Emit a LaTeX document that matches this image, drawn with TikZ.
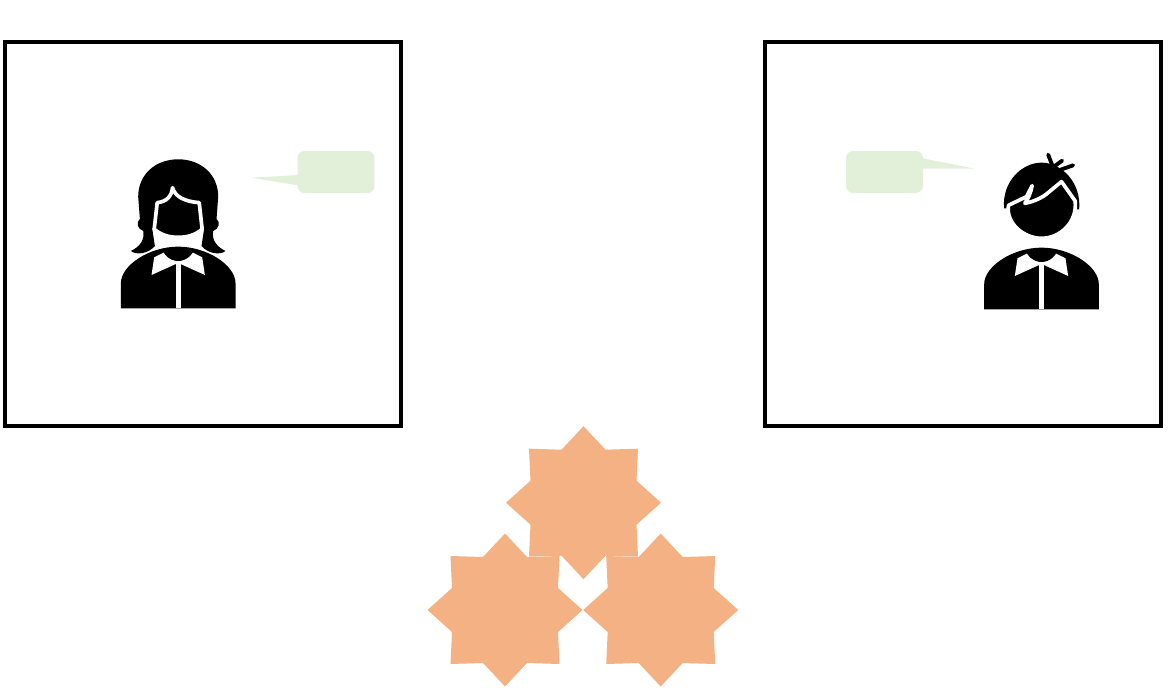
\documentclass[tikz,border=0pt]{standalone}
\usepackage{tikz}
\definecolor{bubblegreen}{HTML}{E2F0D9}
\definecolor{burstorange}{HTML}{F4B183}

\tikzset{
  personbody/.pic={
    \fill[black] (-172,0) -- (-172,-75) .. controls (-172,-130) and (-85,-185) .. (0,-185)
      .. controls (85,-185) and (172,-130) .. (172,-75) -- (172,0) -- cycle;
    \foreach \s in {-1,1} {
      \fill[white] (\s*44,-167) -- (\s*72,-153) -- (\s*80,-100) -- (\s*7,-133) -- (\s*7,-142) .. controls (\s*25,-145) and (\s*36,-155) .. (\s*44,-167) -- cycle;
    }
    \fill[white] (-7,-142) rectangle (7,0);
  },
  burstshape/.pic={
    \fill[burst] (0,-76.5) -- (22,-53) -- (54.5,-54) -- (53,-22) -- (77.5,0) -- (53,22) -- (54.5,54) -- (22,53)
      -- (0,76.5) -- (-22,53) -- (-54.5,54) -- (-53,22) -- (-77.5,0) -- (-53,-22) -- (-54.5,-54) -- (-22,-53) -- cycle;
  }
}

\begin{document}
\begin{tikzpicture}[
  x=0.02cm, y=-0.02cm,
  panel/.style={rectangle, draw=black, line width=1.9pt, minimum width=7.92cm, minimum height=7.68cm, inner sep=0pt},
  bubble/.style={rectangle, fill=bubblegreen, rounded corners=0.14cm, minimum width=1.54cm, minimum height=0.84cm, inner sep=0pt},
  tail/.style={fill=bubblegreen},
  burst/.style={fill=burstorange},
  faceline/.style={fill=black, draw=white, line width=2.1pt, line join=round}
]
\useasboundingbox (0,0) rectangle (1170,687);

% Panels
\node[panel] (panelL) at (203,234) {};
\node[panel] (panelR) at (963,234) {};

% Speech bubbles
\node[bubble] (bubbleL) at (336,172) {};
\node[bubble] (bubbleR) at (884.5,172) {};
\fill[tail] (299,175) -- (251,177.7) -- (299,185.5) -- cycle;
\fill[tail] (921,158) -- (975,168.7) -- (921,168.5) -- cycle;

% Left person
\begin{scope}[shift={(178.2,308.3)}, scale=1/3]
  \pic[transform shape] {personbody};
  \fill[black] (0,-447) .. controls (-70,-447) and (-120,-400) .. (-120,-335)
    -- (-115,-268) .. controls (-128,-258) and (-122,-238) .. (-105,-232)
    .. controls (-100,-205) and (-115,-185) .. (-142,-172)
    .. controls (-125,-158) and (-88,-165) .. (-70,-187)
    -- (-78,-240) -- (78,-240) -- (70,-187)
    .. controls (88,-165) and (125,-158) .. (142,-172)
    .. controls (115,-185) and (100,-205) .. (105,-232)
    .. controls (122,-238) and (128,-258) .. (115,-268)
    -- (120,-335) .. controls (120,-400) and (70,-447) .. (0,-447) -- cycle;
  \filldraw[faceline] (-63,-317) .. controls (-35,-320) and (-20,-335) .. (-17,-362)
    .. controls (-10,-335) and (20,-320) .. (63,-317)
    -- (72,-237) .. controls (50,-220) and (30,-213) .. (0,-213)
    .. controls (-30,-213) and (-50,-220) .. (-72,-237) -- cycle;
\end{scope}

% Right person
\begin{scope}[shift={(1041.5,309.3)}, scale=1/3]
  \pic[transform shape] {personbody};
  \fill[black] (-112,-303) .. controls (-120,-380) and (-60,-440) .. (0,-440)
    .. controls (60,-440) and (120,-380) .. (113,-300) -- cycle;
  \draw[black, line width=2.2pt, line cap=round] (20,-464) -- (33,-430);
  \draw[black, line width=2.2pt, line cap=round] (62,-446) -- (40,-430);
  \draw[black, line width=2.2pt, line cap=round] (95,-432) -- (55,-418);
  \filldraw[faceline] (-99,-312) -- (-45,-338) -- (-28,-371) .. controls (-32,-350) and (-40,-332) .. (-50,-318)
    .. controls (-25,-322) and (5,-336) .. (20,-350) -- (60,-383) -- (101,-325)
    .. controls (108,-260) and (55,-213) .. (0,-213)
    .. controls (-55,-213) and (-108,-260) .. (-99,-312) -- cycle;
\end{scope}

% Bursts
\begin{scope}
  \pic (burstT) at (583.5,502.7) {burstshape};
  \pic (burstL) at (505,610) {burstshape};
  \pic (burstR) at (660.7,610) {burstshape};
\end{scope}

\end{tikzpicture}
\end{document}
